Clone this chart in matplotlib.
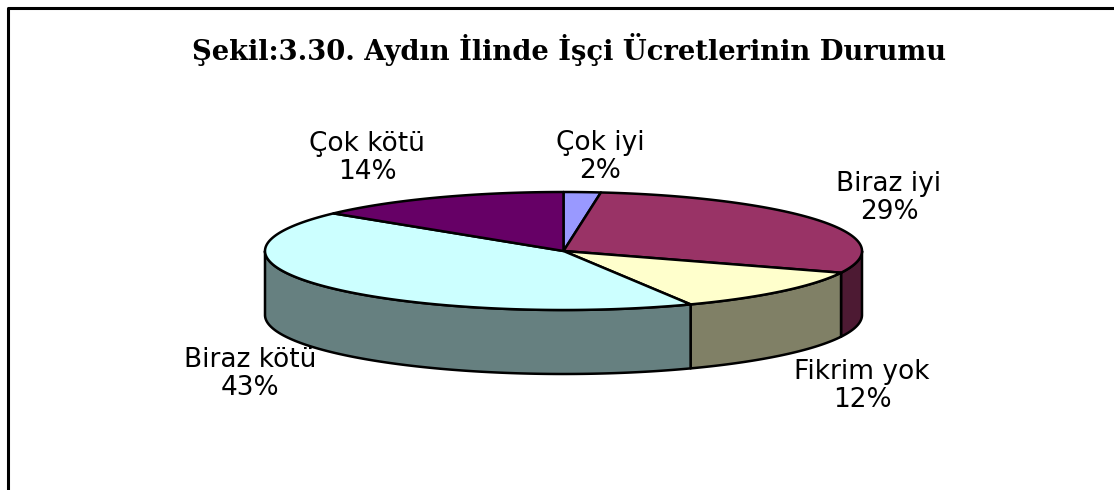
import numpy as np
import matplotlib
matplotlib.use('Agg')
import matplotlib.pyplot as plt
from matplotlib.patches import Polygon

categories = ['Çok iyi', 'Biraz iyi', 'Fikrim yok', 'Biraz kötü', 'Çok kötü']
values = [2, 29, 12, 43, 14]
top_colors = ['#9999FF', '#993366', '#FFFFCC', '#CCFFFF', '#660066']
side_colors = ['#4D4D80', '#4D1A33', '#808066', '#668080', '#330033']
label_pos = [(600, 157), (889, 198), (862, 386), (250, 374), (367, 158)]
title = 'Şekil:3.30. Aydın İlinde İşçi Ücretlerinin Durumu'

cx, cy = 563.5, 251
rx, ry = 298.5, 59
depth = 64


def rim(a1, a2):
    # angles in degrees, clockwise from the top of the pie
    t = np.radians(np.linspace(a1, a2, max(int(abs(a2 - a1) * 2), 2)))
    return cx + rx * np.sin(t), cy - ry * np.cos(t)


fig = plt.figure(figsize=(11.14, 4.9), dpi=100)
ax = fig.add_axes([0, 0, 1, 1])
ax.set_xlim(0, 1114)
ax.set_ylim(490, 0)
ax.set_axis_off()

# frame only on the top and left
ax.plot([8, 8, 1114], [490, 8, 8], color='black', lw=2.2, solid_capstyle='butt')

edges = np.cumsum([0] + values) * 3.6

# side wall, only the front half can be seen
for i in range(len(values)):
    a1, a2 = max(edges[i], 90), min(edges[i + 1], 270)
    if a2 <= a1:
        continue
    x, y = rim(a1, a2)
    pts = np.r_[np.c_[x, y], np.c_[x[::-1], y[::-1] + depth]]
    ax.add_patch(Polygon(pts, closed=True, facecolor=side_colors[i], edgecolor='black', lw=1.8, joinstyle='round'))

# top face
for i in range(len(values)):
    x, y = rim(edges[i], edges[i + 1])
    pts = np.r_[[[cx, cy]], np.c_[x, y]]
    ax.add_patch(Polygon(pts, closed=True, facecolor=top_colors[i], edgecolor='black', lw=1.8, joinstyle='round'))

for name, v, pos in zip(categories, values, label_pos):
    ax.text(pos[0], pos[1], f'{name}\n{v}%', ha='center', va='center', fontsize=19,
            family='DejaVu Sans', linespacing=1.1, color='black')

ax.text(568.5, 50, title, ha='center', va='center', fontsize=19.7, fontweight='bold',
        family='DejaVu Serif', color='black')

fig.savefig('out.png', dpi=100, facecolor='white')
